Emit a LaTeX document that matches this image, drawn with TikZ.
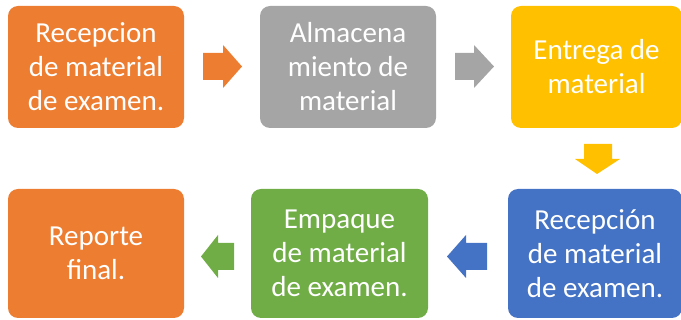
\documentclass[tikz,border=0pt]{standalone}
\usepackage{fontspec}
\setmainfont{Carlito}
\definecolor{corange}{HTML}{ED7D31}
\definecolor{cgray}{HTML}{A5A5A5}
\definecolor{cgold}{HTML}{FFC000}
\definecolor{cblue}{HTML}{4472C4}
\definecolor{cgreen}{HTML}{70AD47}
\tikzset{
  box/.style={rounded corners=10pt, draw=none, inner sep=0pt, align=center, text=white,
    font=\fontsize{29}{34}\selectfont},
}
\begin{document}
\begin{tikzpicture}[x=1pt,y=-1pt]
\useasboundingbox (0,0) rectangle (681,320);
\node[box, fill=corange, minimum width=176pt, minimum height=122pt] (b1) at (96,67) {Recepcion\\de material\\de examen.};
\node[box, fill=cgray, minimum width=176pt, minimum height=122pt] (b2) at (348,67) {Almacena\\miento de\\material};
\node[box, fill=cgold, minimum width=171pt, minimum height=122pt] (b3) at (596.5,67) {Entrega de\\material};
\node[box, fill=cblue, minimum width=174pt, minimum height=129pt] (b4) at (595,253.5) {Recepción\\de material\\de examen.};
\node[box, fill=cgreen, minimum width=177pt, minimum height=129pt] (b5) at (339.5,253.5) {Empaque\\de material\\de examen.};
\node[box, fill=corange, minimum width=176pt, minimum height=129pt] (b6) at (96,253.5) {Reporte\\final.};
% block arrows
\fill[corange] (203,53) -- (223,53) -- (223,45) -- (242,66.5) -- (223,88) -- (223,80) -- (203,80) -- cycle;
\fill[cgray] (455,53) -- (474,53) -- (474,45) -- (494,66.5) -- (474,88) -- (474,80) -- (455,80) -- cycle;
\fill[cgold] (584,144) -- (612,144) -- (612,159) -- (620,159) -- (597,174) -- (575,159) -- (584,159) -- cycle;
\fill[cblue] (487,243) -- (466,243) -- (466,235) -- (447,256.5) -- (466,278) -- (466,270) -- (487,270) -- cycle;
\fill[cgreen] (234,243) -- (218,243) -- (218,235) -- (201,256.5) -- (218,278) -- (218,270) -- (234,270) -- cycle;
\end{tikzpicture}
\end{document}
